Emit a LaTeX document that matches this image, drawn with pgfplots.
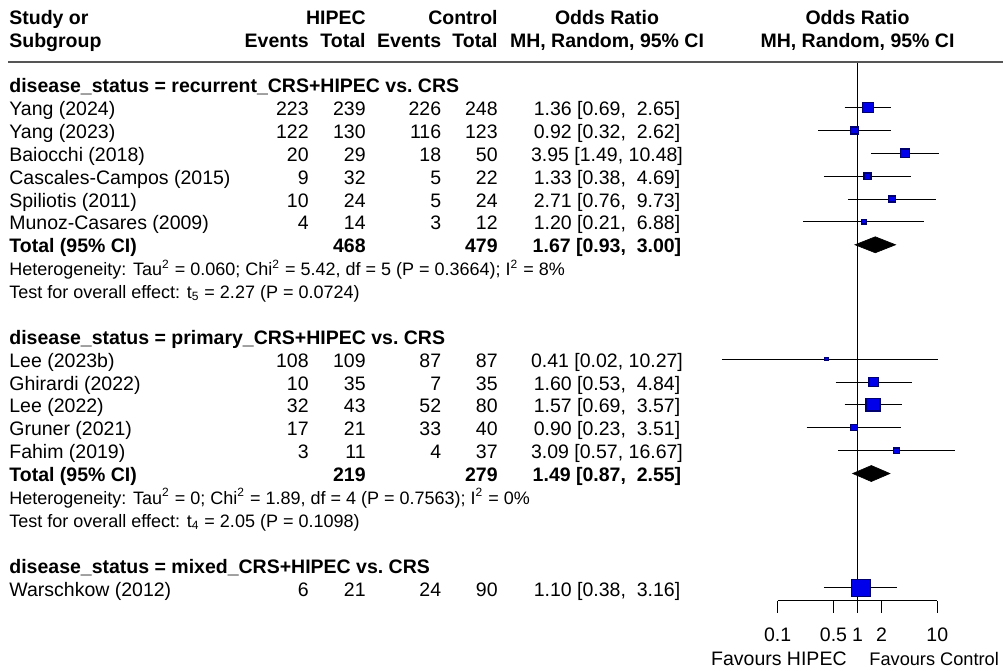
\documentclass[border=0pt]{standalone}
\usepackage{fontspec}
\setmainfont{Liberation Sans}
\usepackage{pgfplots}
\pgfplotsset{compat=1.18}

\definecolor{sqfill}{RGB}{0,0,235}
\definecolor{sqedge}{RGB}{0,0,110}
\definecolor{rulegray}{RGB}{85,85,85}

\newcommand\rowfont{\fontsize{9.75}{11}\selectfont}
\newcommand\hetfont{\fontsize{9}{10}\selectfont}

% one study: row, odds ratio, lower, upper, half side of the square (pt)
\newcommand\study[5]{%
  \addplot[black, line width=0.5pt] coordinates {(#3,-#1) (#4,-#1)};
  \addplot[only marks, mark=square*, mark size=#5pt,
    mark options={fill=sqfill, draw=sqedge, line width=0.65pt, yscale=0.88}]
    coordinates {(#2,-#1)};
}

% one table row: baseline, study, events/total (HIPEC), events/total (control), OR [CI]
\newcommand\datarow[7]{%
  \node[L] at (9,#1) {#2};
  \node[R] at (309,#1) {#3};
  \node[R] at (366,#1) {#4};
  \node[R] at (441.5,#1) {#5};
  \node[R] at (498,#1) {#6};
  \node[C] at (607,#1) {#7};
}

\begin{document}
\begin{tikzpicture}[
  L/.style={anchor=base west, inner sep=0pt},
  R/.style={anchor=base east, inner sep=0pt},
  C/.style={anchor=base, inner sep=0pt},
  font=\rowfont]
\path[use as bounding box, fill=white] (0,0) rectangle (503pt,-335pt);

\begin{axis}[
  at={(388.85pt,-300.35pt)}, anchor=south west,
  scale only axis, width=79.8pt, height=269.35pt,
  xmode=log, xmin=0.1, xmax=10,
  ymin=-21.56, ymax=1.99,
  clip=false,
  axis x line=bottom, axis y line=none,
  x axis line style={-, line width=0.5pt},
  xtick={0.1,0.5,1,2,10}, xticklabels={0.1,0.5,1,2,10},
  xminorticks=false,
  tick align=outside, major tick length=6pt,
  xtick style={line width=0.5pt, black},
  xticklabel style={font=\rowfont, anchor=base, yshift=-14.15pt},
]
% line of no effect
\addplot[black, line width=0.6pt] coordinates {(1,1.99) (1,-21.56)};

% recurrent
\study{0}{1.36}{0.69}{2.65}{2.7}
\study{1}{0.92}{0.32}{2.62}{2.0}
\study{2}{3.95}{1.49}{10.48}{2.35}
\study{3}{1.33}{0.38}{4.69}{1.75}
\study{4}{2.71}{0.76}{9.73}{1.7}
\study{5}{1.20}{0.21}{6.88}{1.2}
\addplot[fill=black, draw=black, line width=0.3pt]
  coordinates {(0.93,-6) (1.67,-5.65) (3.00,-6) (1.67,-6.35)} -- cycle;

% primary
\study{11}{0.41}{0.02}{10.27}{0.9}
\study{12}{1.60}{0.53}{4.84}{2.4}
\study{13}{1.57}{0.69}{3.57}{3.5}
\study{14}{0.90}{0.23}{3.51}{1.7}
\study{15}{3.09}{0.57}{16.67}{1.55}
\addplot[fill=black, draw=black, line width=0.3pt]
  coordinates {(0.87,-16) (1.49,-15.65) (2.55,-16) (1.49,-16.35)} -- cycle;

% mixed
\study{21}{1.10}{0.38}{3.16}{4.75}
\end{axis}

\begin{scope}[x=0.5pt, y=-0.5pt]
% header
\node[L, font=\rowfont\bfseries] at (9,24.5) {Study or};
\node[L, font=\rowfont\bfseries] at (9,47.5) {Subgroup};
\node[R, font=\rowfont\bfseries] at (366,24.5) {HIPEC};
\node[R, font=\rowfont\bfseries] at (498,24.5) {Control};
\node[R, font=\rowfont\bfseries] at (309,47.5) {Events};
\node[R, font=\rowfont\bfseries] at (366,47.5) {Total};
\node[R, font=\rowfont\bfseries] at (441.5,47.5) {Events};
\node[R, font=\rowfont\bfseries] at (498,47.5) {Total};
\node[C, font=\rowfont\bfseries] at (607,24.5) {Odds Ratio};
\node[C, font=\rowfont\bfseries] at (607,47.5) {MH, Random, 95\% CI};
\node[C, font=\rowfont\bfseries] at (857.5,24.5) {Odds Ratio};
\node[C, font=\rowfont\bfseries] at (857.5,47.5) {MH, Random, 95\% CI};
\draw[rulegray, line width=1pt] (8,62) -- (1003,62);

% recurrent
\node[L, font=\rowfont\bfseries] at (9,92.6) {disease\_status = recurrent\_CRS+HIPEC vs.\ CRS};
\datarow{115.5}{Yang (2024)}{223}{239}{226}{248}{1.36 [0.69,\ \ 2.65]}
\datarow{138.4}{Yang (2023)}{122}{130}{116}{123}{0.92 [0.32,\ \ 2.62]}
\datarow{161.3}{Baiocchi (2018)}{20}{29}{18}{50}{3.95 [1.49, 10.48]}
\datarow{184.1}{Cascales-Campos (2015)}{9}{32}{5}{22}{1.33 [0.38,\ \ 4.69]}
\datarow{207.0}{Spiliotis (2011)}{10}{24}{5}{24}{2.71 [0.76,\ \ 9.73]}
\datarow{229.9}{Munoz-Casares (2009)}{4}{14}{3}{12}{1.20 [0.21,\ \ 6.88]}
\begin{scope}[font=\rowfont\bfseries]
\datarow{252.8}{Total (95\% CI)}{}{468}{}{479}{1.67 [0.93,\ \ 3.00]}
\end{scope}
\node[L, font=\hetfont] at (9,275.7) {Heterogeneity: Tau\textsuperscript{2} = 0.060; Chi\textsuperscript{2} = 5.42, df = 5 (P = 0.3664); I\textsuperscript{2} = 8\%};
\node[L, font=\hetfont] at (9,298.5) {Test for overall effect: t\textsubscript{5} = 2.27 (P = 0.0724)};

% primary
\node[L, font=\rowfont\bfseries] at (9,344.3) {disease\_status = primary\_CRS+HIPEC vs.\ CRS};
\datarow{367.2}{Lee (2023b)}{108}{109}{87}{87}{0.41 [0.02, 10.27]}
\datarow{390.1}{Ghirardi (2022)}{10}{35}{7}{35}{1.60 [0.53,\ \ 4.84]}
\datarow{412.9}{Lee (2022)}{32}{43}{52}{80}{1.57 [0.69,\ \ 3.57]}
\datarow{435.8}{Gruner (2021)}{17}{21}{33}{40}{0.90 [0.23,\ \ 3.51]}
\datarow{458.7}{Fahim (2019)}{3}{11}{4}{37}{3.09 [0.57, 16.67]}
\begin{scope}[font=\rowfont\bfseries]
\datarow{481.6}{Total (95\% CI)}{}{219}{}{279}{1.49 [0.87,\ \ 2.55]}
\end{scope}
\node[L, font=\hetfont] at (9,504.5) {Heterogeneity: Tau\textsuperscript{2} = 0; Chi\textsuperscript{2} = 1.89, df = 4 (P = 0.7563); I\textsuperscript{2} = 0\%};
\node[L, font=\hetfont] at (9,527.3) {Test for overall effect: t\textsubscript{4} = 2.05 (P = 0.1098)};

% mixed
\node[L, font=\rowfont\bfseries] at (9,573.1) {disease\_status = mixed\_CRS+HIPEC vs.\ CRS};
\datarow{596.0}{Warschkow (2012)}{6}{21}{24}{90}{1.10 [0.38,\ \ 3.16]}

% direction labels
\node[R] at (847,665.5) {Favours HIPEC};
\node[L, font=\fontsize{9.1}{11}\selectfont] at (869,665.5) {Favours Control};
\end{scope}
\end{tikzpicture}
\end{document}
